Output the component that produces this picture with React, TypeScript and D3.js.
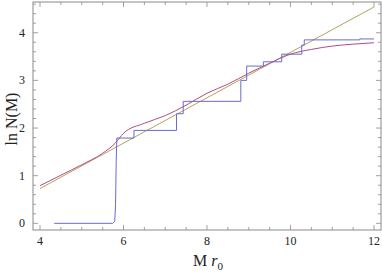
import React from 'react';
import * as d3 from 'd3';

const W = 382;
const H = 273;

// blue staircase: ln of the counted number of states
const blueM = [4.34, 5.74, 5.79, 5.81, 5.825, 5.84, 6.25, 6.25, 7.27, 7.27, 7.43, 7.43, 8.81, 8.81, 8.95, 8.95, 9.35, 9.35, 9.79, 9.79, 10.27, 10.27, 10.33, 10.33, 11.66, 11.66, 12.0];
const blueLnN = [0.0, 0.0, 0.04, 0.4, 1.3, 1.79, 1.79, 1.95, 1.95, 2.3, 2.3, 2.56, 2.56, 3.0, 3.0, 3.3, 3.3, 3.39, 3.39, 3.55, 3.55, 3.74, 3.74, 3.85, 3.85, 3.87, 3.87];

// purple smooth curve
const purpleM = [4.0, 4.5, 5.0, 5.5, 5.8, 6.0, 6.5, 7.0, 7.5, 8.0, 8.5, 9.0, 9.5, 10.0, 10.5, 11.0, 11.5, 12.0];
const purpleLnN = [0.79, 1.01, 1.23, 1.47, 1.68, 1.89, 2.1, 2.26, 2.48, 2.73, 2.92, 3.15, 3.36, 3.55, 3.65, 3.72, 3.76, 3.79];

// olive straight line
const oliveM = [4.0, 12.0];
const oliveLnN = [0.73, 4.54];

const xMajor = [4, 6, 8, 10, 12];
const xMinor = [4.5, 5, 5.5, 6.5, 7, 7.5, 8.5, 9, 9.5, 10.5, 11, 11.5];
const yMajor = [0, 1, 2, 3, 4];
const yMinor = [0.2, 0.4, 0.6, 0.8, 1.2, 1.4, 1.6, 1.8, 2.2, 2.4, 2.6, 2.8, 3.2, 3.4, 3.6, 3.8, 4.2, 4.4, 4.6];

const FRAME = { left: 33, right: 381, top: 2, bottom: 230 };
const FONT = '"Liberation Serif", "DejaVu Serif", serif';
const FRAME_COLOR = '#8a8a8a';

export default function App() {
  const x = d3.scaleLinear().domain([3.832, 12.168]).range([FRAME.left, FRAME.right]);
  const y = d3.scaleLinear().domain([-0.14, 4.645]).range([FRAME.bottom, FRAME.top]);

  const toPath = (xs: number[], ys: number[], curve: d3.CurveFactory) =>
    d3.line<number>()
      .x((_, i) => x(xs[i]))
      .y((_, i) => y(ys[i]))
      .curve(curve)(xs.map((_, i) => i)) || '';

  const bluePath = toPath(blueM, blueLnN, d3.curveLinear);
  const purplePath = toPath(purpleM, purpleLnN, d3.curveMonotoneX);
  const olivePath = toPath(oliveM, oliveLnN, d3.curveLinear);

  const ticks: React.ReactNode[] = [];
  xMajor.concat(xMinor).forEach((v, i) => {
    const len = xMajor.includes(v) ? 5 : 3;
    const px = x(v);
    ticks.push(<line key={'xb' + i} x1={px} x2={px} y1={FRAME.bottom} y2={FRAME.bottom - len} />);
    ticks.push(<line key={'xt' + i} x1={px} x2={px} y1={FRAME.top} y2={FRAME.top + len} />);
  });
  yMajor.concat(yMinor).forEach((v, i) => {
    const len = yMajor.includes(v) ? 5 : 3;
    const py = y(v);
    ticks.push(<line key={'yl' + i} x1={FRAME.left} x2={FRAME.left + len} y1={py} y2={py} />);
    ticks.push(<line key={'yr' + i} x1={FRAME.right} x2={FRAME.right - len} y1={py} y2={py} />);
  });

  return (
    <svg width={W} height={H} style={{ position: 'absolute', left: 0, top: 0, background: '#fff' }}>
      <g fill="none" strokeWidth={1} strokeLinejoin="round">
        <path d={olivePath} stroke="#b4a45a" />
        <path d={purplePath} stroke="#b04c88" />
        <path d={bluePath} stroke="#6a6ad2" />
      </g>
      <rect
        x={FRAME.left}
        y={FRAME.top}
        width={FRAME.right - FRAME.left}
        height={FRAME.bottom - FRAME.top}
        fill="none"
        stroke={FRAME_COLOR}
        strokeWidth={1}
      />
      <g stroke={FRAME_COLOR} strokeWidth={0.8}>{ticks}</g>
      <g fontFamily={FONT} fontSize={12} fill="#222">
        {xMajor.map((v) => (
          <text key={'xl' + v} x={x(v)} y={FRAME.bottom + 15} textAnchor="middle">{v}</text>
        ))}
        {yMajor.map((v) => (
          <text key={'yl' + v} x={FRAME.left - 8} y={y(v) + 4} textAnchor="end">{v}</text>
        ))}
      </g>
      <text
        fontFamily={FONT}
        fontSize={16}
        fill="#222"
        textAnchor="middle"
        transform={`translate(17, ${(FRAME.top + FRAME.bottom) / 2 + 3}) rotate(-90)`}
      >
        ln N(M)
      </text>
      <text fontFamily={FONT} fontSize={16} fill="#222" x={208} y={266} textAnchor="middle">
        M <tspan fontStyle="italic">r</tspan>
        <tspan fontSize={11} dy={4}>0</tspan>
      </text>
    </svg>
  );
}
